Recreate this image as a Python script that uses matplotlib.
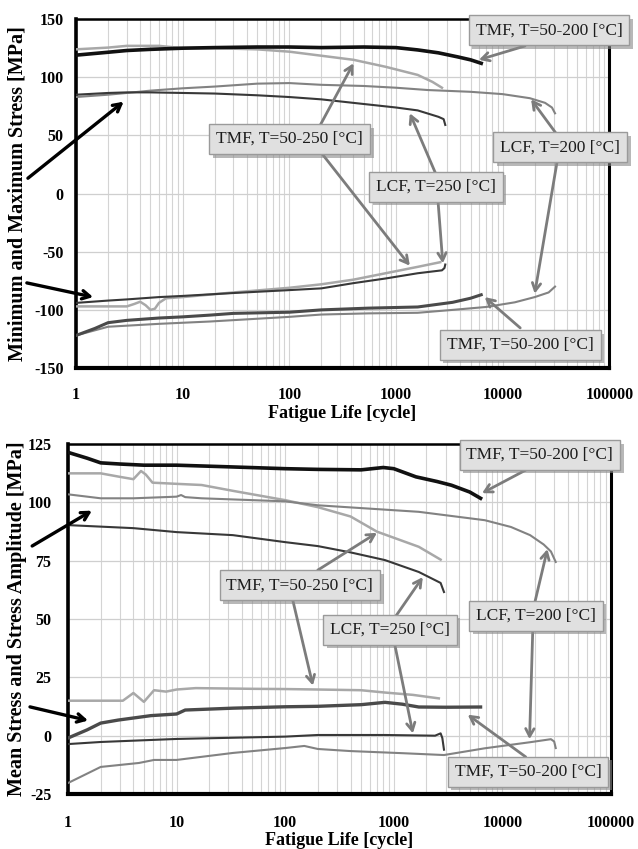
import matplotlib
matplotlib.use("Agg")
import matplotlib.pyplot as plt
import matplotlib.patheffects as pe
from matplotlib.ticker import FixedLocator, LogLocator, NullFormatter

# ---------------- data: minimum / maximum stress [MPa] vs. cycles ----------------
tmf200_max_n = [1, 2, 3, 5, 10, 20, 50, 100, 200, 500, 1000, 1600, 2500, 3800, 5000, 6300]
tmf200_max_s = [119, 121.5, 123, 124, 125, 125.5, 126, 126, 125.5, 126, 125.5, 123.5, 121, 117.5, 115, 112]

tmf250_max_n = [1, 2, 3, 4, 6, 10, 20, 50, 100, 200, 400, 800, 1600, 2200, 2700]
tmf250_max_s = [124, 125.5, 127, 127, 127, 125, 125, 124, 122, 118.5, 115, 109, 102, 96, 91]

lcf200_max_n = [1, 2, 3, 5, 10, 20, 50, 100, 200, 500, 1000, 2000, 5000, 10000, 18000, 25000, 29000, 31000]
lcf200_max_s = [83, 85, 86.5, 88.5, 90.5, 92, 94.5, 95, 93.5, 92.5, 91, 89, 87.5, 85.5, 82, 78, 74, 69]

lcf250_max_n = [1, 2, 3, 5, 10, 20, 50, 100, 200, 500, 1000, 1600, 2500, 2800, 2900]
lcf250_max_s = [85, 86.5, 87, 87, 86.5, 86, 84.5, 83, 81, 77, 74, 71.5, 66, 64, 59]

tmf250_min_n = [1, 2, 3, 3.5, 4, 4.5, 5, 5.5, 6, 7, 10, 30, 100, 200, 400, 800, 1600, 2600]
tmf250_min_s = [-97, -97, -97, -95, -93, -96, -100, -99, -94, -90, -89, -85, -81, -78, -74, -68.5, -63, -59]

lcf250_min_n = [1, 2, 3, 6, 10, 30, 100, 200, 400, 800, 1600, 2700, 2850, 2900]
lcf250_min_s = [-94, -92, -91, -89, -88, -85.5, -83, -81.5, -77, -73, -68.5, -66, -64, -61]

tmf200_min_n = [1, 1.5, 2, 3, 6, 10, 18, 30, 100, 200, 550, 1600, 3400, 5000, 6300]
tmf200_min_s = [-122, -116, -111, -109, -107, -106, -104.5, -103, -102, -100, -98.5, -97.5, -93.5, -90, -87]

lcf200_min_n = [1, 2, 6, 18, 100, 200, 550, 1600, 3400, 7000, 13000, 20000, 27000, 31000]
lcf200_min_s = [-122, -114.5, -112, -110, -106, -104, -103, -102.5, -100, -97.5, -93.5, -89, -85, -80]

# ---------------- data: stress amplitude / mean stress [MPa] vs. cycles ----------------
tmf200_amp_n = [1, 1.5, 2, 3, 5, 10, 30, 100, 200, 500, 800, 1000, 1600, 2500, 3400, 5000, 6300]
tmf200_amp_s = [121.5, 119, 117, 116.5, 116, 116, 115.3, 114.5, 114.2, 114, 115, 114.5, 111, 109, 107.4, 104.5, 101.8]

tmf250_amp_n = [1, 2, 3, 4, 4.7, 5.2, 6, 10, 17, 33, 100, 200, 400, 700, 1700, 2700]
tmf250_amp_s = [112.5, 112.5, 111, 110, 113.5, 112, 108.5, 108, 107.5, 105, 101, 98, 94, 87.5, 81, 75.5]

lcf200_amp_n = [1, 2, 4, 10, 11, 12, 17, 100, 200, 1700, 6900, 12000, 18000, 24000, 28000, 31000]
lcf200_amp_s = [103.5, 101.8, 101.8, 102.5, 103.2, 102.3, 101.8, 100.5, 98.8, 96, 92.4, 89.5, 86, 82, 79, 74.5]

lcf250_amp_n = [1, 4, 10, 33, 100, 200, 400, 830, 1700, 2400, 2700, 2900]
lcf250_amp_s = [90.3, 89, 87.3, 86, 83, 81.3, 78.6, 75.3, 70.2, 66.7, 65.5, 61.6]

tmf250_mean_n = [1, 3.2, 4, 5, 6.2, 8, 10, 15, 50, 100, 200, 500, 830, 1500, 2600]
tmf250_mean_s = [15, 15, 18.3, 14.5, 19.5, 18.9, 19.8, 20.4, 20.1, 20, 19.8, 19.5, 18.5, 17.5, 16]

tmf200_mean_n = [1, 1.5, 2, 2.9, 5.8, 10, 12, 33, 100, 200, 500, 830, 1200, 1700, 3000, 6300]
tmf200_mean_s = [-1, 2.5, 5.4, 6.7, 8.6, 9.3, 11, 11.8, 12.4, 12.6, 13.3, 14.3, 13.5, 12.3, 12.2, 12.3]

lcf250_mean_n = [1, 2, 10, 100, 200, 830, 2400, 2700, 2800, 2900]
lcf250_mean_s = [-3.6, -2.7, -1.4, -0.4, 0.3, 0.3, 0, 1, -1, -6]

lcf200_mean_n = [1, 2, 4.5, 6.2, 10, 33, 100, 150, 200, 400, 1200, 2900, 6900, 18000, 28000, 30000, 31000]
lcf200_mean_s = [-20.3, -13.4, -11.7, -10.4, -10.4, -7.4, -5.3, -4.4, -5.7, -6.6, -7.5, -8.3, -5.4, -2.8, -1.5, -2.5, -5.3]

# ---------------- axis labels and ticks ----------------
x_ticks = [1, 10, 100, 1000, 10000, 100000]
x_tick_labels = ["1", "10", "100", "1000", "10000", "100000"]
top_y_ticks = [-150, -100, -50, 0, 50, 100, 150]
bot_y_ticks = [-25, 0, 25, 50, 75, 100, 125]
x_label = "Fatigue Life [cycle]"
top_y_label = "Minimum and Maximum Stress [MPa]"
bot_y_label = "Mean Stress and Stress Amplitude [MPa]"
lbl_tmf200 = "TMF, T=50-200 [°C]"
lbl_tmf250 = "TMF, T=50-250 [°C]"
lbl_lcf250 = "LCF, T=250 [°C]"
lbl_lcf200 = "LCF, T=200 [°C]"

# colours per test
c_tmf200 = "#111111"
c_tmf200_low = "#4a4a4a"
c_tmf250 = "#a8a8a8"
c_lcf200 = "#828282"
c_lcf250 = "#383838"

SERIF = ["Liberation Serif", "DejaVu Serif"]

fig = plt.figure(figsize=(6.38, 8.49), dpi=100)
ax1 = fig.add_axes([0.119, 0.5665, 0.836, 0.411])
ax2 = fig.add_axes([0.1066, 0.0648, 0.851, 0.412])


def style_axes(ax, yticks, ylim, ylabel, ylab_x, xlab_y, xpad, ypad):
    ax.set_xscale("log")
    ax.set_xlim(1, 100000)
    ax.set_ylim(*ylim)
    ax.xaxis.set_major_locator(FixedLocator(x_ticks))
    ax.xaxis.set_minor_locator(LogLocator(base=10, subs=range(2, 10), numticks=20))
    ax.xaxis.set_minor_formatter(NullFormatter())
    ax.set_xticks(x_ticks)
    ax.set_xticklabels(x_tick_labels)
    ax.set_yticks(yticks)
    ax.set_yticklabels([str(v) for v in yticks])
    ax.tick_params(axis="both", which="both", length=0)
    ax.tick_params(axis="x", pad=xpad)
    ax.tick_params(axis="y", pad=ypad)
    for lab in ax.get_xticklabels() + ax.get_yticklabels():
        lab.set_family(SERIF)
        lab.set_fontweight("bold")
        lab.set_fontsize(11.5)
    ax.grid(True, which="major", axis="y", color="#cfcfcf", lw=0.9)
    ax.grid(True, which="both", axis="x", color="#d4d4d4", lw=0.8)
    ax.set_axisbelow(True)
    for side in ["left", "bottom", "right", "top"]:
        ax.spines[side].set_color("black")
    ax.spines["left"].set_linewidth(2.6)
    ax.spines["bottom"].set_linewidth(3.0)
    ax.spines["right"].set_linewidth(2.2)
    ax.spines["top"].set_linewidth(1.8)
    ax.set_ylabel(ylabel, family=SERIF, fontweight="bold", fontsize=14.5)
    ax.yaxis.set_label_coords(ylab_x, 0.5)
    ax.set_xlabel(x_label, family=SERIF, fontweight="bold", fontsize=13)
    ax.xaxis.set_label_coords(0.5, xlab_y)


style_axes(ax1, top_y_ticks, (-150, 150), top_y_label, -0.090, -0.105, 14, 9)
style_axes(ax2, bot_y_ticks, (-25, 125), bot_y_label, -0.076, -0.108, 15, 12)

# ---- upper panel curves ----
ax1.plot(tmf250_max_n, tmf250_max_s, color=c_tmf250, lw=1.8, zorder=3)
ax1.plot(lcf200_max_n, lcf200_max_s, color=c_lcf200, lw=1.5, zorder=3)
ax1.plot(lcf250_max_n, lcf250_max_s, color=c_lcf250, lw=1.5, zorder=3)
ax1.plot(tmf200_max_n, tmf200_max_s, color=c_tmf200, lw=2.6, zorder=3)
ax1.plot(tmf250_min_n, tmf250_min_s, color=c_tmf250, lw=1.8, zorder=3)
ax1.plot(lcf250_min_n, lcf250_min_s, color=c_lcf250, lw=1.5, zorder=3)
ax1.plot(lcf200_min_n, lcf200_min_s, color=c_lcf200, lw=1.5, zorder=3)
ax1.plot(tmf200_min_n, tmf200_min_s, color=c_tmf200_low, lw=2.2, zorder=3)

# ---- lower panel curves ----
ax2.plot(tmf250_amp_n, tmf250_amp_s, color=c_tmf250, lw=1.8, zorder=3)
ax2.plot(lcf200_amp_n, lcf200_amp_s, color=c_lcf200, lw=1.5, zorder=3)
ax2.plot(lcf250_amp_n, lcf250_amp_s, color=c_lcf250, lw=1.5, zorder=3)
ax2.plot(tmf200_amp_n, tmf200_amp_s, color=c_tmf200, lw=2.6, zorder=3)
ax2.plot(tmf250_mean_n, tmf250_mean_s, color=c_tmf250, lw=1.8, zorder=3)
ax2.plot(lcf250_mean_n, lcf250_mean_s, color=c_lcf250, lw=1.5, zorder=3)
ax2.plot(lcf200_mean_n, lcf200_mean_s, color=c_lcf200, lw=1.5, zorder=3)
ax2.plot(tmf200_mean_n, tmf200_mean_s, color=c_tmf200_low, lw=2.4, zorder=3)


def label_box(ax, text, fx, fy):
    t = ax.text(fx, fy, text, transform=ax.transAxes, ha="center", va="center",
                family=SERIF, fontsize=12.5, color="#1c1c1c", zorder=7, clip_on=False,
                bbox=dict(boxstyle="square,pad=0.4", fc="#e0e0e0", ec="#9a9a9a", lw=1.0))
    t.get_bbox_patch().set_path_effects([
        pe.SimplePatchShadow(offset=(2.5, -2.5), shadow_rgbFace="#8a8a8a", alpha=0.6),
        pe.Normal(),
    ])


def pointer(ax, start, target, color="#7c7c7c", lw=2.0):
    ax.annotate("", xy=target, xycoords="data", xytext=start, textcoords="axes fraction",
                arrowprops=dict(arrowstyle="->,head_length=0.55,head_width=0.3", color=color,
                                lw=lw, shrinkA=0, shrinkB=0),
                zorder=5, annotation_clip=False)


# ---- upper panel annotations ----
pointer(ax1, (0.842, 0.923), (6000, 115))
pointer(ax1, (0.458, 0.696), (400, 112))
pointer(ax1, (0.462, 0.613), (1350, -62))
pointer(ax1, (0.674, 0.559), (1350, 69))
pointer(ax1, (0.679, 0.476), (2750, -60))
pointer(ax1, (0.900, 0.673), (18500, 81))
pointer(ax1, (0.902, 0.590), (20000, -86))
pointer(ax1, (0.833, 0.115), (6800, -89))
pointer(ax1, (-0.090, 0.544), (2.8, 79), color="black", lw=2.4)
pointer(ax1, (-0.092, 0.244), (1.45, -89), color="black", lw=2.4)
label_box(ax1, lbl_tmf200, 0.887, 0.968)
label_box(ax1, lbl_tmf250, 0.401, 0.656)
label_box(ax1, lbl_lcf250, 0.675, 0.519)
label_box(ax1, lbl_lcf200, 0.908, 0.633)
label_box(ax1, lbl_tmf200, 0.833, 0.066)

# ---- lower panel annotations ----
pointer(ax2, (0.843, 0.926), (6500, 104))
pointer(ax2, (0.460, 0.640), (700, 87))
pointer(ax2, (0.414, 0.554), (180, 21.5))
pointer(ax2, (0.604, 0.509), (1850, 68))
pointer(ax2, (0.602, 0.426), (1500, 1))
pointer(ax2, (0.860, 0.549), (26000, 80))
pointer(ax2, (0.856, 0.469), (17800, -1.5))
pointer(ax2, (0.843, 0.106), (4800, 9))
pointer(ax2, (-0.066, 0.709), (1.66, 96.5), color="black", lw=2.4)
pointer(ax2, (-0.070, 0.249), (1.53, 6.5), color="black", lw=2.4)
label_box(ax2, lbl_tmf200, 0.869, 0.969)
label_box(ax2, lbl_tmf250, 0.427, 0.597)
label_box(ax2, lbl_lcf250, 0.593, 0.469)
label_box(ax2, lbl_lcf200, 0.862, 0.509)
label_box(ax2, lbl_tmf200, 0.847, 0.063)

fig.savefig("out.png", dpi=100, facecolor="white")
